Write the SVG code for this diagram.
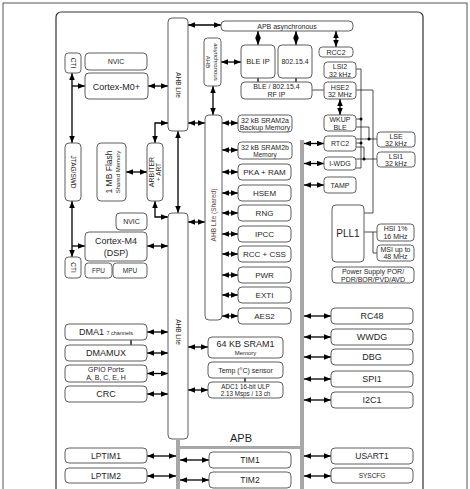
<svg xmlns="http://www.w3.org/2000/svg" width="470" height="489" viewBox="0 0 470 489">
<style>
.b{fill:#fff;stroke:#5e5e5e;stroke-width:1}
text{font-family:"Liberation Sans",Arial,sans-serif;fill:#1e1e1e;text-anchor:middle}
.c{stroke:#000;stroke-width:1.3;fill:none}
.d{marker-start:url(#ah);marker-end:url(#ah)}
.s{marker-end:url(#ah)}
.k{stroke:#222;stroke-width:0.8;fill:none}
.bus{fill:#a8a8a8}
.s6{font-size:6px}.s65{font-size:6.5px}.s7{font-size:7px}.s75{font-size:7.5px}.s8{font-size:8px}.s85{font-size:8.5px}.s9{font-size:9px}
</style>
<defs>
<marker id="ah" viewBox="0 0 7 5.5" refX="7" refY="2.75" markerWidth="7" markerHeight="5.5" markerUnits="userSpaceOnUse" orient="auto-start-reverse"><path d="M0,0 L7,2.75 L0,5.5 z" fill="#000"/></marker>
</defs>
<rect x="3" y="3" width="464" height="500" fill="none" stroke="#555" stroke-width="1"/>
<rect x="56" y="12" width="367" height="500" rx="5" fill="none" stroke="#333" stroke-width="1.2"/>
<g id="buses">
<rect class="bus" x="300" y="140" width="4" height="360"/>
<rect class="bus" x="176" y="446" width="128" height="3"/>
<rect class="bus" x="176" y="440" width="4" height="60"/>
<text x="241" y="442" style="font-size:11px">APB</text>
</g>
<g id="connectors">
<line class="c d" x1="148" y1="86" x2="168" y2="86"/>
<line class="c d" x1="188" y1="25" x2="221" y2="25"/>
<line class="c d" x1="221" y1="62" x2="241" y2="62"/>
<line class="c d" x1="258" y1="31" x2="258" y2="45"/>
<line class="c d" x1="296" y1="31" x2="296" y2="45"/>
<line class="c d" x1="336" y1="31" x2="336" y2="47"/>
<line class="c" x1="258" y1="78" x2="258" y2="82"/>
<line class="c" x1="296" y1="78" x2="296" y2="82"/>
<line class="k" x1="312" y1="90" x2="324" y2="90"/>
<line class="c d" x1="340" y1="99" x2="340" y2="115"/>
<line class="c d" x1="213" y1="86" x2="213" y2="115"/>
<line class="c d" x1="188" y1="123" x2="205" y2="123"/>
<line class="c d" x1="222" y1="123" x2="238" y2="123"/>
<line class="c d" x1="222" y1="150" x2="238" y2="150"/>
<line class="c d" x1="222" y1="172" x2="238" y2="172"/>
<line class="c d" x1="222" y1="193" x2="238" y2="193"/>
<line class="c d" x1="222" y1="213" x2="238" y2="213"/>
<line class="c d" x1="222" y1="234" x2="238" y2="234"/>
<line class="c d" x1="222" y1="254" x2="238" y2="254"/>
<line class="c d" x1="222" y1="275" x2="238" y2="275"/>
<line class="c d" x1="222" y1="295" x2="238" y2="295"/>
<line class="c d" x1="222" y1="316" x2="238" y2="316"/>
<line class="c d" x1="188" y1="222" x2="205" y2="222"/>
<line class="c d" x1="178" y1="131" x2="178" y2="213"/>
<line class="c d" x1="72" y1="73" x2="72" y2="143"/>
<line class="c s" x1="72" y1="86" x2="85" y2="86"/>
<line class="c d" x1="72" y1="201" x2="72" y2="257"/>
<line class="c s" x1="72" y1="246" x2="85" y2="246"/>
<line class="c d" x1="147" y1="246" x2="168" y2="246"/>
<path class="c d" d="M155,143 V123 H168"/>
<path class="c d" d="M155,201 V217 H168"/>
<line class="c d" x1="126" y1="172" x2="147" y2="172"/>
<line class="c d" x1="147" y1="332" x2="168" y2="332"/>
<line class="c d" x1="147" y1="353" x2="168" y2="353"/>
<line class="c d" x1="147" y1="373.5" x2="168" y2="373.5"/>
<line class="c d" x1="147" y1="394" x2="168" y2="394"/>
<line class="c" x1="131" y1="340" x2="131" y2="345"/>
<line class="c d" x1="188" y1="347" x2="208" y2="347"/>
<line class="c d" x1="188" y1="390" x2="208" y2="390"/>
<line class="c" x1="245" y1="378" x2="245" y2="382"/>
<line class="c d" x1="147" y1="456" x2="176" y2="456"/>
<line class="c d" x1="147" y1="476" x2="176" y2="476"/>
<line class="c d" x1="180" y1="460" x2="209" y2="460"/>
<line class="c d" x1="180" y1="480" x2="209" y2="480"/>
<line class="c d" x1="304" y1="143.5" x2="324" y2="143.5"/>
<line class="c d" x1="304" y1="163.5" x2="324" y2="163.5"/>
<line class="c d" x1="304" y1="185" x2="324" y2="185"/>
<line class="c d" x1="304" y1="316" x2="331" y2="316"/>
<line class="c d" x1="304" y1="337" x2="331" y2="337"/>
<line class="c d" x1="304" y1="357" x2="331" y2="357"/>
<line class="c d" x1="304" y1="379" x2="331" y2="379"/>
<line class="c d" x1="304" y1="400" x2="331" y2="400"/>
<line class="c d" x1="304" y1="456" x2="331" y2="456"/>
<line class="c d" x1="304" y1="476" x2="331" y2="476"/>
<path class="k" d="M356,69 H361 V155"/>
<path class="k" d="M356,119 H361"/>
<path class="k" d="M356,127 H369 V139"/>
<path class="k" d="M356,139 H377"/>
<path class="k" d="M356,143 H361"/>
<path class="k" d="M356,147 H364 V159"/>
<path class="k" d="M356,159 H377"/>
<path class="k" d="M361,155 V168 H356"/>
<path class="k" d="M356,90 H373 V213 H364"/>
<path class="k" d="M364,232 H377"/>
<path class="k" d="M373,232 V253 H377"/>
<circle cx="361" cy="119" r="1.5"/>
<circle cx="369" cy="139" r="1.5"/>
<circle cx="361" cy="143" r="1.5"/>
<circle cx="364" cy="159" r="1.5"/>
</g>
<g id="cti1"><rect class="b" x="65" y="53" width="16" height="20" rx="3.5"/><text class="s65" transform="translate(70.7,63) rotate(90)">CTI</text></g>
<g id="nvic1"><rect class="b" x="85" y="53" width="62" height="17" rx="4"/><text class="s7" x="116" y="64">NVIC</text></g>
<g id="cortexm0"><rect class="b" x="85" y="73" width="63" height="26" rx="4"/><text class="s9" x="116.5" y="89.5">Cortex-M0+</text></g>
<g id="ahblite1"><rect class="b" x="168" y="18" width="20" height="113" rx="4"/><text class="s65" transform="translate(175.7,85) rotate(90)">AHB Lite</text></g>
<g id="ahbasync"><rect class="b" x="204" y="38" width="17" height="48" rx="3.5"/><text class="s6" transform="translate(206,62) rotate(90)">AHB</text><text class="s6" transform="translate(214,62) rotate(90)">asynchronous</text></g>
<g id="apbasync"><rect class="b" x="221" y="21" width="132" height="10" rx="4"/><text class="s7" x="287" y="28.5">APB asynchronous</text></g>
<g id="bleip"><rect class="b" x="241" y="45" width="34" height="33" rx="4"/><text class="s75" x="258" y="64">BLE IP</text></g>
<g id="ieee"><rect class="b" x="278" y="45" width="34" height="33" rx="4"/><text class="s7" x="295" y="64">802.15.4</text></g>
<g id="rcc2"><rect class="b" x="319" y="47" width="34" height="10" rx="3.5"/><text class="s7" x="336" y="54.5">RCC2</text></g>
<g id="rfip"><rect class="b" x="241" y="82" width="71" height="17" rx="4"/><text class="s7" x="276.5" y="89">BLE / 802.15.4</text><text class="s7" x="276.5" y="97">RF IP</text></g>
<g id="lsi2"><rect class="b" x="324" y="62" width="32" height="16" rx="3.5"/><text class="s7" x="340" y="69">LSI2</text><text class="s7" x="340" y="76.5">32 kHz</text></g>
<g id="hse2"><rect class="b" x="324" y="82" width="32" height="17" rx="3.5"/><text class="s7" x="340" y="89.5">HSE2</text><text class="s7" x="340" y="97">32 MHz</text></g>
<g id="wkup"><rect class="b" x="324" y="115" width="32" height="16" rx="3.5"/><text class="s7" x="340" y="122">WKUP</text><text class="s7" x="340" y="129.5">BLE</text></g>
<g id="rtc2"><rect class="b" x="324" y="136" width="32" height="15" rx="3.5"/><text class="s7" x="340" y="146">RTC2</text></g>
<g id="iwdg"><rect class="b" x="324" y="157" width="32" height="13" rx="3.5"/><text class="s7" x="340" y="166">I-WDG</text></g>
<g id="tamp"><rect class="b" x="324" y="177" width="32" height="16" rx="3.5"/><text class="s7" x="340" y="187.5">TAMP</text></g>
<g id="lse"><rect class="b" x="377" y="132" width="38" height="15" rx="3.5"/><text class="s7" x="396" y="138.5">LSE</text><text class="s7" x="396" y="145.5">32 kHz</text></g>
<g id="lsi1"><rect class="b" x="377" y="152" width="38" height="15" rx="3.5"/><text class="s7" x="396" y="158.5">LSI1</text><text class="s7" x="396" y="165.5">32 kHz</text></g>
<g id="pll1"><rect class="b" x="332" y="205" width="32" height="57" rx="4"/><text x="348" y="237" style="font-size:10px">PLL1</text></g>
<g id="hsi"><rect class="b" x="377" y="224" width="37" height="17" rx="3.5"/><text class="s7" x="395.5" y="231">HSI 1%</text><text class="s7" x="395.5" y="238.5">16 MHz</text></g>
<g id="msi"><rect class="b" x="377" y="245" width="37" height="16" rx="3.5"/><text class="s7" x="395.5" y="251.5">MSI up to</text><text class="s7" x="395.5" y="259">48 MHz</text></g>
<g id="power"><rect class="b" x="332" y="267" width="82" height="16" rx="4"/><text class="s7" x="373" y="274">Power Supply POR/</text><text class="s7" x="373" y="281.5">PDR/BOR/PVD/AVD</text></g>
<g id="ahbshared"><rect class="b" x="205" y="115" width="17" height="205" rx="4"/><text class="s65" style="fill:#5a4636" transform="translate(215.5,215) rotate(-90)">AHB Lite (Shared)</text></g>
<g id="sram2a"><rect class="b" x="238" y="115" width="54" height="17" rx="3.5"/><text class="s7" x="265" y="122.5">32 kB SRAM2a</text><text class="s7" x="265" y="130">Backup Memory</text></g>
<g id="sram2b"><rect class="b" x="238" y="142" width="54" height="17" rx="3.5"/><text class="s7" x="265" y="149.5">32 kB SRAM2b</text><text class="s65" x="265" y="157">Memory</text></g>
<g id="pka"><rect class="b" x="238" y="164" width="53" height="16" rx="4"/><text class="s8" x="264.5" y="175">PKA + RAM</text></g>
<g id="hsem"><rect class="b" x="238" y="185" width="53" height="16" rx="4"/><text class="s8" x="264.5" y="196">HSEM</text></g>
<g id="rng"><rect class="b" x="238" y="205" width="53" height="16" rx="4"/><text class="s8" x="264.5" y="216">RNG</text></g>
<g id="ipcc"><rect class="b" x="238" y="226" width="53" height="16" rx="4"/><text class="s8" x="264.5" y="237">IPCC</text></g>
<g id="rcccss"><rect class="b" x="238" y="246" width="53" height="16" rx="4"/><text class="s8" x="264.5" y="257">RCC + CSS</text></g>
<g id="pwr"><rect class="b" x="238" y="267" width="53" height="16" rx="4"/><text class="s8" x="264.5" y="278">PWR</text></g>
<g id="exti"><rect class="b" x="238" y="287" width="53" height="16" rx="4"/><text class="s8" x="264.5" y="298">EXTI</text></g>
<g id="aes2"><rect class="b" x="238" y="308" width="53" height="16" rx="4"/><text class="s8" x="264.5" y="319">AES2</text></g>
<g id="jtag"><rect class="b" x="65" y="143" width="16" height="58" rx="4"/><text class="s65" transform="translate(70.7,172) rotate(90)">JTAG/SWD</text></g>
<g id="flash"><rect class="b" x="97" y="143" width="29" height="58" rx="4"/><text class="s85" transform="translate(112,172) rotate(-90)">1 MB Flash</text><text class="s6" transform="translate(120,172) rotate(-90)">Shared Memory</text></g>
<g id="arbiter"><rect class="b" x="147" y="143" width="16" height="58" rx="4"/><text class="s7" transform="translate(154,172) rotate(-90)">ARBITER</text><text class="s65" transform="translate(161,172) rotate(-90)">+ ART</text></g>
<g id="nvic2"><rect class="b" x="116" y="213" width="31" height="17" rx="4"/><text class="s7" x="131.5" y="224">NVIC</text></g>
<g id="cortexm4"><rect class="b" x="85" y="232" width="62" height="29" rx="4"/><text class="s9" x="116" y="244">Cortex-M4</text><text class="s9" x="116" y="256">(DSP)</text></g>
<g id="fpu"><rect class="b" x="85" y="263" width="27" height="15" rx="3.5"/><text class="s65" x="98.5" y="273">FPU</text></g>
<g id="mpu"><rect class="b" x="113" y="263" width="34" height="15" rx="3.5"/><text class="s65" x="130" y="273">MPU</text></g>
<g id="cti2"><rect class="b" x="65" y="257" width="16" height="21" rx="3.5"/><text class="s65" transform="translate(70.7,267.5) rotate(90)">CTI</text></g>
<g id="ahblite2"><rect class="b" x="168" y="213" width="20" height="226" rx="4"/><text class="s65" transform="translate(175.7,332) rotate(90)">AHB Lite</text></g>
<g id="dma1"><rect class="b" x="65" y="324" width="82" height="16" rx="4"/><text class="s9" x="106" y="335">DMA1 <tspan style="font-size:5.5px">7 channels</tspan></text></g>
<g id="dmamux"><rect class="b" x="65" y="345" width="82" height="16" rx="4"/><text class="s9" x="106" y="356">DMAMUX</text></g>
<g id="gpio"><rect class="b" x="65" y="365" width="82" height="17" rx="4"/><text class="s7" x="106" y="372">GPIO Ports</text><text class="s7" x="106" y="380">A, B, C, E, H</text></g>
<g id="crc"><rect class="b" x="65" y="386" width="82" height="16" rx="4"/><text class="s9" x="106" y="397">CRC</text></g>
<g id="sram1"><rect class="b" x="208" y="337" width="75" height="21" rx="4"/><text class="s9" x="245.5" y="347">64 KB SRAM1</text><text class="s6" x="245.5" y="355">Memory</text></g>
<g id="temp"><rect class="b" x="208" y="362" width="75" height="16" rx="4"/><text class="s7" x="245.5" y="373">Temp (°C) sensor</text></g>
<g id="adc"><rect class="b" x="208" y="382" width="75" height="16" rx="4"/><text x="245.5" y="389" style="font-size:6.3px">ADC1 16-bit ULP</text><text x="245.5" y="396" style="font-size:6.3px">2.13 Msps / 13 ch</text></g>
<g id="lptim1"><rect class="b" x="65" y="448" width="82" height="15" rx="4"/><text class="s85" x="106" y="458.5">LPTIM1</text></g>
<g id="lptim2"><rect class="b" x="65" y="468" width="82" height="15" rx="4"/><text class="s85" x="106" y="478.5">LPTIM2</text></g>
<g id="tim1"><rect class="b" x="209" y="452" width="82" height="16" rx="4"/><text class="s85" x="250" y="463">TIM1</text></g>
<g id="tim2"><rect class="b" x="209" y="472" width="82" height="16" rx="4"/><text class="s85" x="250" y="483">TIM2</text></g>
<g id="rc48"><rect class="b" x="331" y="308" width="82" height="16" rx="4"/><text class="s9" x="372" y="319">RC48</text></g>
<g id="wwdg"><rect class="b" x="331" y="329" width="82" height="16" rx="4"/><text class="s9" x="372" y="340">WWDG</text></g>
<g id="dbg"><rect class="b" x="331" y="349" width="82" height="16" rx="4"/><text class="s9" x="372" y="360">DBG</text></g>
<g id="spi1"><rect class="b" x="331" y="371" width="82" height="16" rx="4"/><text class="s9" x="372" y="382">SPI1</text></g>
<g id="i2c1"><rect class="b" x="331" y="392" width="82" height="16" rx="4"/><text class="s9" x="372" y="403">I2C1</text></g>
<g id="usart1"><rect class="b" x="331" y="448" width="82" height="16" rx="4"/><text class="s85" x="372" y="459">USART1</text></g>
<g id="syscfg"><rect class="b" x="331" y="468" width="82" height="15" rx="4"/><text class="s65" x="372" y="478">SYSCFG</text></g>
</svg>
